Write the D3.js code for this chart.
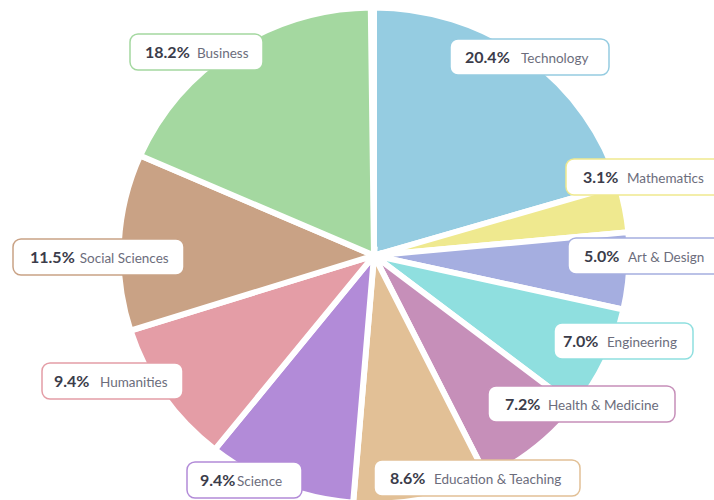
<!DOCTYPE html>
<html>
<head>
<meta charset="utf-8">
<script src="https://cdn.jsdelivr.net/npm/d3@7"></script>
<style>
    body { margin: 0; background: #fff; }
    svg { display: block; }
    .pct { font-family: Lato, "Open Sans", sans-serif; font-weight: 700; font-size: 16px; fill: #3b3c4a; }
    .name { font-family: Lato, "Open Sans", sans-serif; font-size: 13.5px; fill: #6c6d7c; }
</style>
</head>
<body>
<div id="chart"></div>
<script>
// data
const categories = ["Technology", "Mathematics", "Art & Design", "Engineering", "Health & Medicine",
    "Education & Teaching", "Science", "Humanities", "Social Sciences", "Business"];
const shares = [20.4, 3.1, 5.0, 7.0, 7.2, 8.6, 9.4, 9.4, 11.5, 18.2];
const colors = ["#95cce1", "#efe98f", "#a5aee0", "#8fdfdf", "#c68fb9",
    "#e2c096", "#b28bd8", "#e49da6", "#c9a285", "#a4d8a0"];

// label box layout (box x, box y, box width, percent x, name x)
const labelBoxes = [
    {bx: 450, by: 39, bw: 159, px: 465, nx: 521},
    {bx: 566, by: 159, bw: 160, px: 583, nx: 627},
    {bx: 568, by: 238, bw: 160, px: 584, nx: 628},
    {bx: 554, by: 323, bw: 139, px: 563, nx: 607},
    {bx: 488, by: 386, bw: 187, px: 505, nx: 548},
    {bx: 374, by: 460, bw: 206, px: 390, nx: 434},
    {bx: 187, by: 462, bw: 115, px: 200, nx: 237},
    {bx: 42, by: 363, bw: 141, px: 54, nx: 100},
    {bx: 13, by: 239, bw: 171, px: 30, nx: 79},
    {bx: 130, by: 34, bw: 133, px: 145, nx: 197}
];

const width = 714, height = 500;
const cx = 374, cy = 255.5, rx = 252.5, ry = 245;
const gap = 6;

const data = categories.map((c, i) => ({name: c, value: shares[i], color: colors[i], box: labelBoxes[i]}));

const svg = d3.select("#chart").append("svg")
    .attr("width", width)
    .attr("height", height);

// pie drawn on a 100% total, slightly squashed vertically like the original
const pie = d3.pie()
    .sort(null)
    .value(d => d.value)
    .startAngle(0)
    .endAngle(2 * Math.PI * d3.sum(shares) / 100);

// the white stroke eats half its width from the rim, so add it back
const arc = d3.arc()
    .innerRadius(0)
    .outerRadius(rx + gap / 2);

// white strokes give the parallel gaps between slices
svg.append("g")
    .attr("transform", `translate(${cx},${cy}) scale(1,${ry / rx})`)
    .selectAll("path")
    .data(pie(data))
    .join("path")
    .attr("d", arc)
    .attr("fill", d => d.data.color)
    .attr("stroke", "#fff")
    .attr("stroke-width", gap)
    .attr("stroke-linejoin", "miter");

// labels
const labels = svg.append("g")
    .selectAll("g")
    .data(data)
    .join("g");

labels.append("rect")
    .attr("x", d => d.box.bx)
    .attr("y", d => d.box.by)
    .attr("width", d => d.box.bw)
    .attr("height", 36)
    .attr("rx", 8)
    .attr("fill", "#fff")
    .attr("stroke", d => d.color)
    .attr("stroke-width", 1.5);

labels.append("text")
    .attr("class", "pct")
    .attr("x", d => d.box.px)
    .attr("y", d => d.box.by + 24)
    .text(d => d.value.toFixed(1) + "%");

labels.append("text")
    .attr("class", "name")
    .attr("x", function (d) {
        let pctEnd = d.box.px + this.parentNode.querySelector(".pct").getComputedTextLength();
        return Math.max(d.box.nx, pctEnd + (d.name === "Science" ? 0 : 5));
    })
    .attr("y", d => d.box.by + 24)
    .text(d => d.name);
</script>
</body>
</html>
